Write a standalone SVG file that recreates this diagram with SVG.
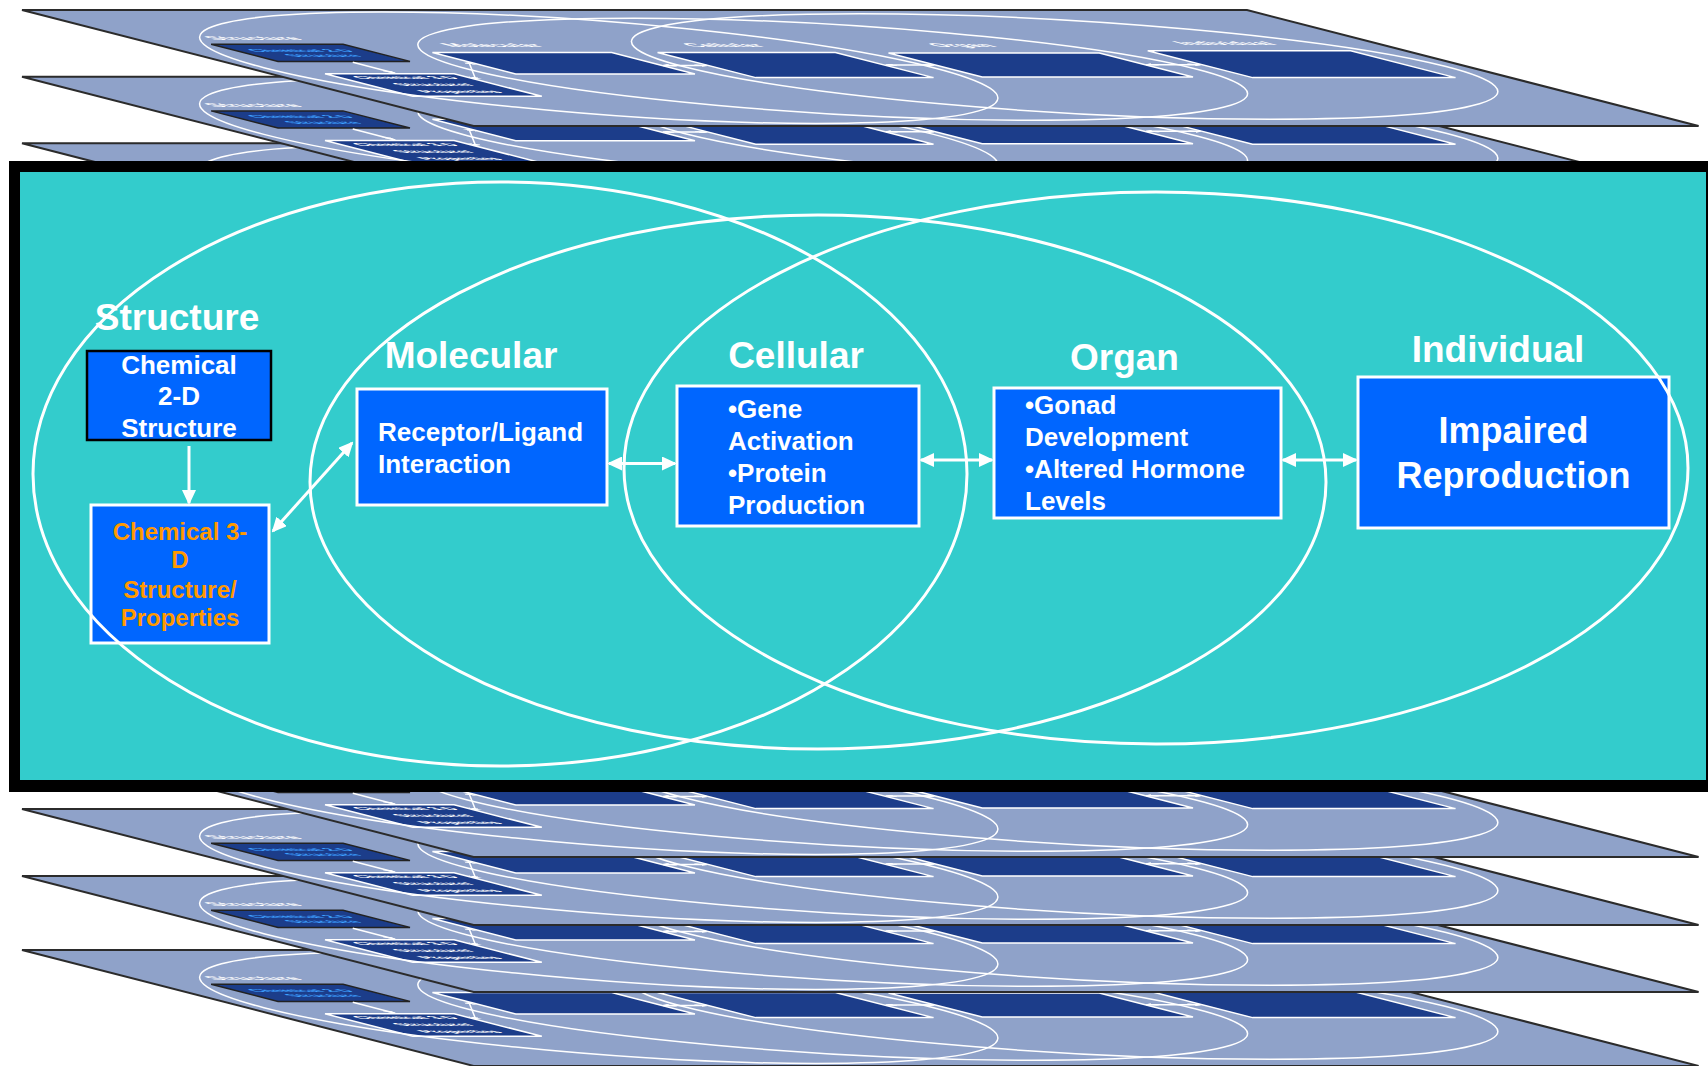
<svg xmlns="http://www.w3.org/2000/svg" width="1708" height="1066" viewBox="0 0 1708 1066">
<style>
.hdr{font-family:"Liberation Sans",Arial,sans-serif;font-weight:bold;fill:#fff;font-size:37px;text-anchor:middle}
.bt{font-family:"Liberation Sans",Arial,sans-serif;font-weight:bold;fill:#fff;font-size:26px}
.ell{fill:none;stroke:#fff;stroke-width:3}
.box{fill:#0066FF;stroke:#fff;stroke-width:3}
.conn{stroke:#fff;stroke-width:3;fill:none}
.lbg{fill:#8FA2C9;stroke:#2B2B2B;stroke-width:2;vector-effect:non-scaling-stroke}
.lell{fill:none;stroke:#fff;stroke-width:1.5;vector-effect:non-scaling-stroke}
.lbox{fill:#1C3D8A;stroke:#fff;stroke-width:1.5;vector-effect:non-scaling-stroke}
.lconn{stroke:#fff;stroke-width:1.5;fill:none;vector-effect:non-scaling-stroke}
.lhdr{font-family:"Liberation Sans",Arial,sans-serif;font-weight:bold;fill:#fff;font-size:28px;text-anchor:middle}
.lbt{font-family:"Liberation Sans",Arial,sans-serif;font-weight:bold;font-size:22px;text-anchor:middle}
</style>
<defs>
<marker id="ah" viewBox="0 0 15 14" refX="13" refY="7" markerWidth="15" markerHeight="14" markerUnits="userSpaceOnUse" orient="auto-start-reverse"><path d="M0,0 L15,7 L0,14 Z" fill="#fff"/></marker>
<marker id="lah" viewBox="0 0 15 14" refX="13" refY="7" markerWidth="15" markerHeight="14" markerUnits="userSpaceOnUse" orient="auto-start-reverse"><path d="M0,0 L15,7 L0,14 Z" fill="#fff"/></marker>
<g id="layerArt">
<rect class="lbg" x="9" y="172" width="1708.5" height="607"/>
<rect class="lbox" x="87" y="351" width="184" height="90" style="stroke:#222"/>
<rect class="lbox" x="85" y="506" width="180" height="118"/>
<rect class="lbox" x="350" y="395" width="250" height="112"/>
<rect class="lbox" x="665" y="394" width="248" height="132"/>
<rect class="lbox" x="984" y="397" width="294" height="126"/>
<rect class="lbox" x="1358" y="385" width="283" height="141"/>
<ellipse class="lell" cx="500" cy="474" rx="467" ry="292"/>
<ellipse class="lell" cx="818" cy="482" rx="508" ry="267"/>
<ellipse class="lell" cx="1156" cy="468" rx="532" ry="276"/>
<path class="lconn" d="M186,446 L186,503" marker-end="url(#lah)"/>
<path class="lconn" d="M267,533 L348,446" marker-start="url(#lah)" marker-end="url(#lah)"/>
<path class="lconn" d="M602,462 L663,462" marker-start="url(#lah)" marker-end="url(#lah)"/>
<path class="lconn" d="M915,460 L982,460" marker-start="url(#lah)" marker-end="url(#lah)"/>
<path class="lconn" d="M1280,458 L1356,458" marker-start="url(#lah)" marker-end="url(#lah)"/>
<text class="lhdr" x="177" y="330">Structure</text>
<text class="lhdr" x="471" y="368">Molecular</text>
<text class="lhdr" x="796" y="366">Cellular</text>
<text class="lhdr" x="1128" y="366">Organ</text>
<text class="lhdr" x="1505" y="356">Individual</text>
<text class="lbt" x="179" y="390" fill="#3EA0FF">Chemical 2-D</text>
<text class="lbt" x="179" y="420" fill="#3EA0FF">Structure</text>
<text class="lbt" x="175" y="535" fill="#fff">Chemical 3-D</text>
<text class="lbt" x="175" y="572" fill="#fff">Structure/</text>
<text class="lbt" x="175" y="608" fill="#fff">Properties</text>
</g>
</defs>

<g id="layers">
<use href="#layerArt" transform="matrix(0.717,0,0.744,0.191,-112.42,917.15)"/>
<use href="#layerArt" transform="matrix(0.717,0,0.744,0.191,-112.42,843.15)"/>
<use href="#layerArt" transform="matrix(0.717,0,0.744,0.191,-112.42,776.15)"/>
<use href="#layerArt" transform="matrix(0.717,0,0.744,0.191,-112.42,708.15)"/>
<use href="#layerArt" transform="matrix(0.717,0,0.744,0.191,-112.42,110.45)"/>
<use href="#layerArt" transform="matrix(0.717,0,0.744,0.191,-112.42,43.85)"/>
<use href="#layerArt" transform="matrix(0.717,0,0.744,0.191,-112.42,-22.85)"/>
</g>

<g id="frame">
<rect x="9" y="161" width="1720" height="631" fill="#000"/>
<rect x="20" y="172" width="1686" height="608" fill="#33CCCC"/>
</g>

<g id="node-chem2d">
<rect x="87" y="351" width="184" height="89" fill="#0066FF" stroke="#000" stroke-width="2.5"/>
<text class="bt" x="179" y="374" text-anchor="middle">Chemical</text>
<text class="bt" x="179" y="405" text-anchor="middle">2-D</text>
<text class="bt" x="179" y="437" text-anchor="middle">Structure</text>
</g>
<g id="node-chem3d">
<rect class="box" x="91" y="505" width="178" height="138"/>
<text class="bt" x="180" y="540" text-anchor="middle" style="fill:#FF9900;font-size:24px">Chemical 3-</text>
<text class="bt" x="180" y="568" text-anchor="middle" style="fill:#FF9900;font-size:24px">D</text>
<text class="bt" x="180" y="598" text-anchor="middle" style="fill:#FF9900;font-size:24px">Structure/</text>
<text class="bt" x="180" y="626" text-anchor="middle" style="fill:#FF9900;font-size:24px">Properties</text>
</g>
<g id="node-receptor">
<rect class="box" x="357" y="389" width="250" height="116"/>
<text class="bt" x="378" y="441">Receptor/Ligand</text>
<text class="bt" x="378" y="473">Interaction</text>
</g>
<g id="node-cellular">
<rect class="box" x="677" y="386" width="242" height="140"/>
<text class="bt" x="728" y="418">•Gene</text>
<text class="bt" x="728" y="450">Activation</text>
<text class="bt" x="728" y="482">•Protein</text>
<text class="bt" x="728" y="514">Production</text>
</g>
<g id="node-organ">
<rect class="box" x="994" y="388" width="287" height="130"/>
<text class="bt" x="1025" y="414">•Gonad</text>
<text class="bt" x="1025" y="446">Development</text>
<text class="bt" x="1025" y="478">•Altered Hormone</text>
<text class="bt" x="1025" y="510">Levels</text>
</g>
<g id="node-individual">
<rect class="box" x="1358" y="377" width="311" height="151"/>
<text class="bt" x="1513.5" y="443" text-anchor="middle" style="font-size:36px">Impaired</text>
<text class="bt" x="1513.5" y="488" text-anchor="middle" style="font-size:36px">Reproduction</text>
</g>

<g id="level-structure">
<ellipse class="ell" cx="500" cy="474" rx="467" ry="292"/>
<text class="hdr" x="177" y="330">Structure</text>
</g>
<g id="level-molecular">
<ellipse class="ell" cx="818" cy="482" rx="508" ry="267"/>
<text class="hdr" x="471" y="368">Molecular</text>
</g>
<g id="level-cellular">
<ellipse class="ell" cx="1156" cy="468" rx="532" ry="276"/>
<text class="hdr" x="796" y="368">Cellular</text>
</g>
<g id="level-organ">
<text class="hdr" x="1124.5" y="370">Organ</text>
</g>
<g id="level-individual">
<text class="hdr" x="1498" y="362">Individual</text>
</g>

<g id="connectors">
<path class="conn" d="M189,446 L189,503" marker-end="url(#ah)"/>
<path class="conn" d="M273,531 L352,443" marker-start="url(#ah)" marker-end="url(#ah)"/>
<path class="conn" d="M609,463.5 L675,463.5" marker-start="url(#ah)" marker-end="url(#ah)"/>
<path class="conn" d="M921,460 L992,460" marker-start="url(#ah)" marker-end="url(#ah)"/>
<path class="conn" d="M1283,460 L1356,460" marker-start="url(#ah)" marker-end="url(#ah)"/>
</g>
</svg>
